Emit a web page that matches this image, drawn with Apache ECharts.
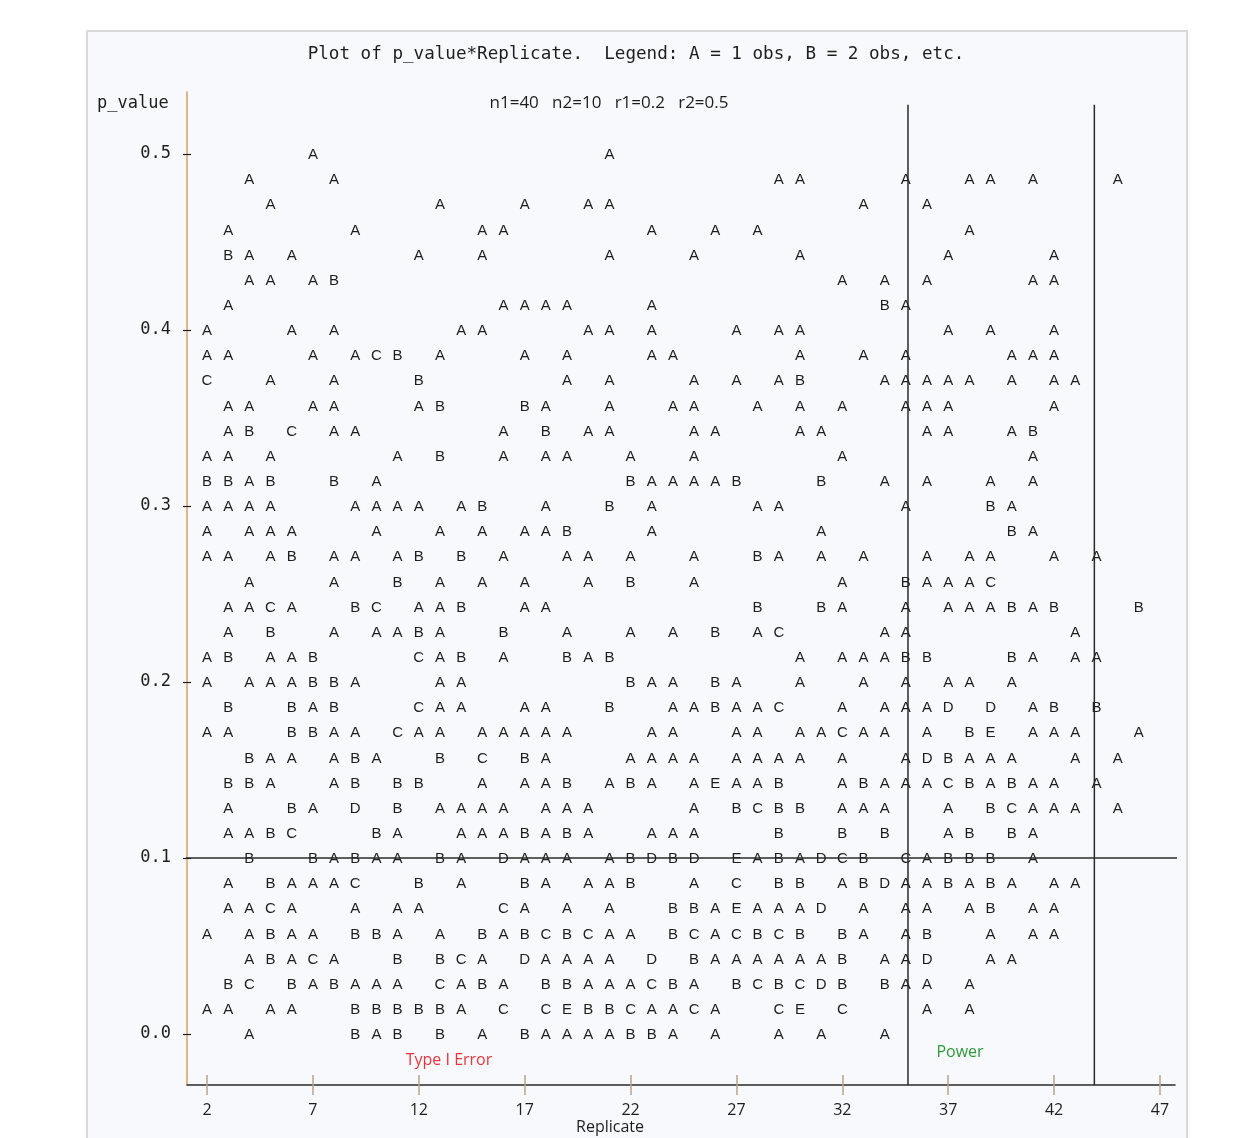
<!DOCTYPE html>
<html>
<head>
<meta charset="utf-8">
<script src="https://cdn.jsdelivr.net/npm/echarts@6/dist/echarts.min.js"></script>
<style>
  html, body { margin: 0; padding: 0; background: #ffffff; overflow: hidden; }
  #frame {
    position: absolute; left: 86px; top: 30px; width: 1102px; height: 1120px;
    background: #f8f9fc; border: 2px solid #d9d9d9; box-sizing: border-box;
  }
  #chart { position: absolute; left: 0; top: 0; width: 1250px; height: 1138px; }
</style>
</head>
<body>
<div id="frame"></div>
<div id="chart"></div>
<script>
// Axis tick values
const replicateTicks = [2, 7, 12, 17, 22, 27, 32, 37, 42, 47];
const pValueTicks = [0.0, 0.1, 0.2, 0.3, 0.4, 0.5];

// Line-printer plot rows, from p_value = 0.5 down to 0.0 (7 rows per 0.1).
// Each token is "<Replicate><letter>", letter A = 1 obs, B = 2 obs, etc.
const rowTop = 0.5;
const rowsPerTenth = 7;
const obsRows = [
  "7A 21A",
  "4A 8A 29A 30A 35A 38A 39A 41A 45A",
  "5A 13A 17A 20A 21A 33A 36A",
  "3A 9A 15A 16A 23A 26A 28A 38A",
  "3B 4A 6A 12A 15A 21A 25A 30A 37A 42A",
  "4A 5A 7A 8B 32A 34A 36A 41A 42A",
  "3A 16A 17A 18A 19A 23A 34B 35A",
  "2A 6A 8A 14A 15A 20A 21A 23A 27A 29A 30A 37A 39A 42A",
  "2A 3A 7A 9A 10C 11B 13A 17A 19A 23A 24A 30A 33A 35A 40A 41A 42A",
  "2C 5A 8A 12B 19A 21A 25A 27A 29A 30B 34A 35A 36A 37A 38A 40A 42A 43A",
  "3A 4A 7A 8A 12A 13B 17B 18A 21A 24A 25A 28A 30A 32A 35A 36A 37A 42A",
  "3A 4B 6C 8A 9A 16A 18B 20A 21A 25A 26A 30A 31A 36A 37A 40A 41B",
  "2A 3A 5A 11A 13B 16A 18A 19A 22A 25A 32A 41A",
  "2B 3B 4A 5B 8B 10A 22B 23A 24A 25A 26A 27B 31B 34A 36A 39A 41A",
  "2A 3A 4A 5A 9A 10A 11A 12A 14A 15B 18A 21B 23A 28A 29A 35A 39B 40A",
  "2A 4A 5A 6A 10A 13A 15A 17A 18A 19B 23A 31A 40B 41A",
  "2A 3A 5A 6B 8A 9A 11A 12B 14B 16A 19A 20A 22A 25A 28B 29A 31A 33A 36A 38A 39A 42A 44A",
  "4A 8A 11B 13A 15A 17A 20A 22B 25A 32A 35B 36A 37A 38A 39C",
  "3A 4A 5C 6A 9B 10C 12A 13A 14B 17A 18A 28B 31B 32A 35A 37A 38A 39A 40B 41A 42B 46B",
  "3A 5B 8A 10A 11A 12B 13A 16B 19A 22A 24A 26B 28A 29C 34A 35A 43A",
  "2A 3B 5A 6A 7B 12C 13A 14B 16A 19B 20A 21B 30A 32A 33A 34A 35B 36B 40B 41A 43A 44A",
  "2A 4A 5A 6A 7B 8B 9A 13A 14A 22B 23A 24A 26B 27A 30A 33A 35A 37A 38A 40A",
  "3B 6B 7A 8B 12C 13A 14A 17A 18A 21B 24A 25A 26B 27A 28A 29C 32A 34A 35A 36A 37D 39D 41A 42B 44B",
  "2A 3A 6B 7B 8A 9A 11C 12A 13A 15A 16A 17A 18A 19A 23A 24A 27A 28A 30A 31A 32C 33A 34A 36A 38B 39E 41A 42A 43A 46A",
  "4B 5A 6A 8A 9B 10A 13B 15C 17B 18A 22A 23A 24A 25A 27A 28A 29A 30A 32A 35A 36D 37B 38A 39A 40A 43A 45A",
  "3B 4B 5A 8A 9B 11B 12B 15A 17A 18A 19B 21A 22B 23A 25A 26E 27A 28A 29B 32A 33B 34A 35A 36A 37C 38B 39A 40B 41A 42A 44A",
  "3A 6B 7A 9D 11B 13A 14A 15A 16A 18A 19A 20A 25A 27B 28C 29B 30B 32A 33A 34A 37A 39B 40C 41A 42A 43A 45A",
  "3A 4A 5B 6C 10B 11A 14A 15A 16A 17B 18A 19B 20A 23A 24A 25A 29B 32B 34B 37A 38B 40B 41A",
  "4B 7B 8A 9B 10A 11A 13B 14A 16D 17A 18A 19A 21A 22B 23D 24B 25D 27E 28A 29B 30A 31D 32C 33B 35C 36A 37B 38B 39B 41A",
  "3A 5B 6A 7A 8A 9C 12B 14A 17B 18A 20A 21A 22B 25A 27C 29B 30B 32A 33B 34D 35A 36A 37B 38A 39B 40A 42A 43A",
  "3A 4A 5C 6A 9A 11A 12A 16C 17A 19A 21A 24B 25B 26A 27E 28A 29A 30A 31D 33A 35A 36A 38A 39B 41A 42A",
  "2A 4A 5B 6A 7A 9B 10B 11A 13A 15B 16A 17B 18C 19B 20C 21A 22A 24B 25C 26A 27C 28B 29C 30B 32B 33A 35A 36B 39A 41A 42A",
  "4A 5B 6A 7C 8A 11B 13B 14C 15A 17D 18A 19A 20A 21A 23D 25B 26A 27A 28A 29A 30A 31A 32B 34A 35A 36D 39A 40A",
  "3B 4C 6B 7A 8B 9A 10A 11A 13C 14A 15B 16A 18B 19B 20A 21A 22A 23C 24B 25A 27B 28C 29B 30C 31D 32B 34B 35A 36A 38A",
  "2A 3A 5A 6A 9B 10B 11B 12B 13B 14A 16C 18C 19E 20B 21B 22C 23A 24A 25C 26A 29C 30E 32C 36A 38A",
  "4A 9B 10A 11B 13B 15A 17B 18A 19A 20A 21A 22B 23B 24A 26A 29A 31A 34A"
];

// Reference lines: significance level and the replicate band of the power runs
const typeIErrorLevel = 0.1;
const powerBand = [35.1, 43.9];

// Parse rows into [Replicate, p_value, obs count]
const points = [];
obsRows.forEach(function (row, i) {
  const p = rowTop - i / (rowsPerTenth * 10);
  row.split(' ').forEach(function (tok) {
    const rep = parseInt(tok, 10);
    const count = tok.charCodeAt(tok.length - 1) - 64;
    points.push([rep, p, count]);
  });
});

const X_MIN = 1.0556, X_MAX = 47.708;
const Y_MIN = -0.029, Y_MAX = 0.5352;
const tickTan = '#b9a48a';
const axisTan = '#dba060';
const ink = '#1e1e1e';
const mono = '"DejaVu Sans Mono", "Liberation Mono", monospace';
const sans = '"Open Sans", "Liberation Sans", sans-serif';

const chart = echarts.init(document.getElementById('chart'), null, { renderer: 'canvas' });

const option = {
  animation: false,
  backgroundColor: 'transparent',
  grid: { left: 187, right: 75, top: 92, bottom: 53 },
  xAxis: [
    {
      type: 'value', min: X_MIN, max: X_MAX, position: 'bottom',
      splitLine: { show: false },
      axisLine: { show: true, onZero: false, lineStyle: { color: '#2a2a2a', width: 1.5 } },
      axisTick: { show: true, customValues: replicateTicks, length: 10, lineStyle: { color: tickTan, width: 1.5 } },
      axisLabel: { show: true, customValues: replicateTicks, margin: 17, color: ink, fontSize: 16, fontFamily: sans }
    },
    {
      type: 'value', min: X_MIN, max: X_MAX, position: 'bottom',
      splitLine: { show: false },
      axisLine: { show: false, onZero: false },
      axisTick: { show: true, inside: true, customValues: replicateTicks, length: 10, lineStyle: { color: tickTan, width: 1.5 } },
      axisLabel: { show: false }
    }
  ],
  yAxis: [
    {
      type: 'value', min: Y_MIN, max: Y_MAX, position: 'left',
      splitLine: { show: false },
      axisLine: { show: true, onZero: false, lineStyle: { color: axisTan, width: 1.5 } },
      axisTick: { show: true, customValues: pValueTicks, length: 4, lineStyle: { color: ink, width: 1.2 } },
      axisLabel: {
        show: true, customValues: pValueTicks, margin: 16, color: ink, fontSize: 17, fontFamily: mono,
        padding: [4, 0, 0, 0],
        formatter: function (v) { return v.toFixed(1); }
      }
    },
    {
      type: 'value', min: Y_MIN, max: Y_MAX, position: 'left',
      splitLine: { show: false },
      axisLine: { show: false, onZero: false },
      axisTick: { show: true, inside: true, customValues: pValueTicks, length: 4, lineStyle: { color: ink, width: 1.2 } },
      axisLabel: { show: false }
    }
  ],
  series: [
    {
      type: 'custom',
      name: 'p_value',
      xAxisIndex: 0, yAxisIndex: 0,
      data: points,
      silent: true,
      renderItem: function (params, api) {
        const pt = api.coord([api.value(0), api.value(1)]);
        return {
          type: 'text',
          x: pt[0], y: pt[1] + 1,
          style: {
            text: String.fromCharCode(64 + api.value(2)),
            fill: ink,
            font: '15px "Liberation Sans", Arial, sans-serif',
            align: 'center', verticalAlign: 'middle'
          }
        };
      }
    },
    {
      type: 'line', name: 'Type I Error level', clip: false, silent: true, symbol: 'none',
      lineStyle: { color: '#2a2a2a', width: 1.5 },
      data: [[0.867, typeIErrorLevel], [48.27, typeIErrorLevel]]
    },
    {
      type: 'line', name: 'Power start', clip: false, silent: true, symbol: 'none',
      lineStyle: { color: '#2a2a2a', width: 1.5 },
      data: [[powerBand[0], Y_MIN], [powerBand[0], 0.528]]
    },
    {
      type: 'line', name: 'Power end', clip: false, silent: true, symbol: 'none',
      lineStyle: { color: '#2a2a2a', width: 1.5 },
      data: [[powerBand[1], Y_MIN], [powerBand[1], 0.528]]
    }
  ],
  graphic: [
    {
      type: 'text', x: 636, y: 54,
      style: { text: 'Plot of p_value*Replicate.  Legend: A = 1 obs, B = 2 obs, etc.', fill: ink,
               font: '17.6px ' + mono, align: 'center', verticalAlign: 'middle' }
    },
    {
      type: 'text', x: 97, y: 104,
      style: { text: 'p_value', fill: ink, font: '17px ' + mono, align: 'left', verticalAlign: 'middle' }
    },
    {
      type: 'text', x: 609, y: 103,
      style: { text: 'n1=40   n2=10   r1=0.2   r2=0.5', fill: ink, font: '17px ' + sans, align: 'center', verticalAlign: 'middle' }
    },
    {
      type: 'text', x: 449, y: 1060,
      style: { text: 'Type I Error', fill: '#e8363c', font: '16px ' + sans, align: 'center', verticalAlign: 'middle' }
    },
    {
      type: 'text', x: 960, y: 1052,
      style: { text: 'Power', fill: '#2e9a3a', font: '16px ' + sans, align: 'center', verticalAlign: 'middle' }
    },
    {
      type: 'text', x: 610, y: 1127,
      style: { text: 'Replicate', fill: ink, font: '16px ' + sans, align: 'center', verticalAlign: 'middle' }
    }
  ]
};

chart.setOption(option);
</script>
</body>
</html>
